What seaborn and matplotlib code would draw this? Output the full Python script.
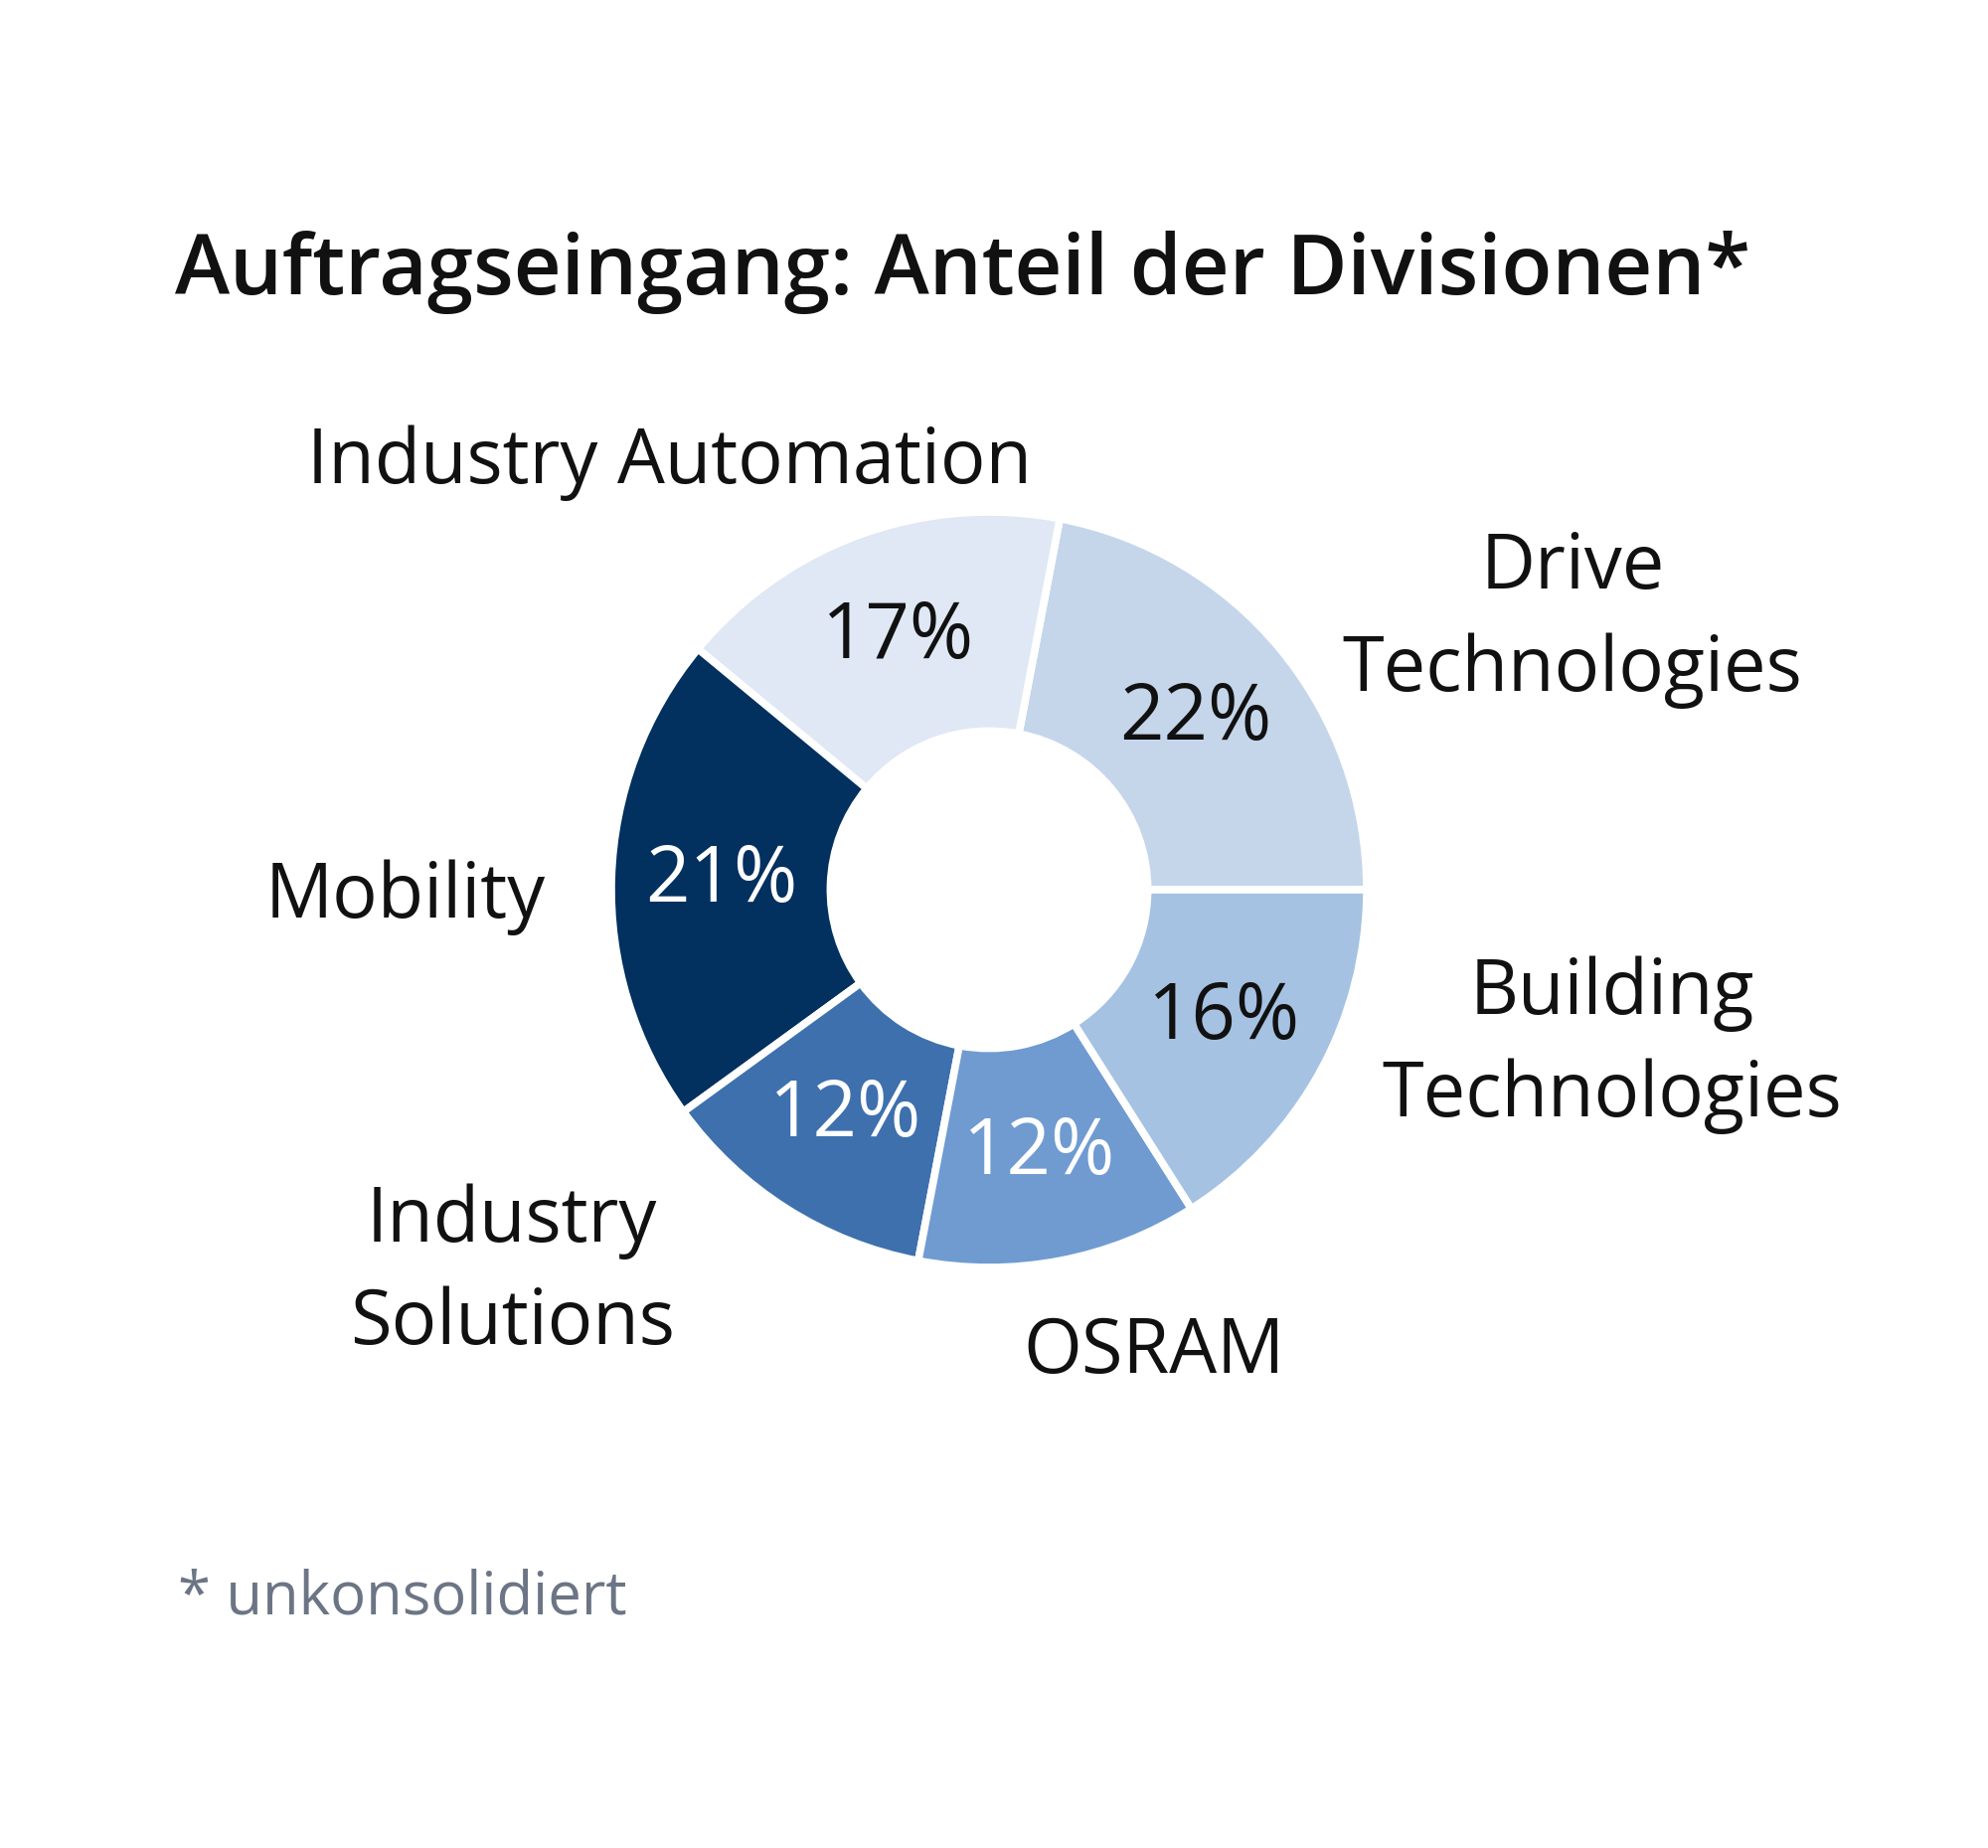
import matplotlib
matplotlib.use("Agg")
import matplotlib.pyplot as plt
import seaborn as sns

# Daten: Anteil der Divisionen am Auftragseingang (gegen den Uhrzeigersinn ab 3 Uhr)
divisionen = ["Drive\nTechnologies", "Industry Automation", "Mobility",
              "Industry\nSolutions", "OSRAM", "Building\nTechnologies"]
anteile = [22, 17, 21, 12, 12, 16]
farben = ["#c5d6eb", "#dfe8f4", "#02305f", "#3d70ad", "#6f9bd1", "#a5c2e2"]
pct_farben = ["#111111", "#111111", "white", "white", "white", "#111111"]

# Positionen der Beschriftungen (in Einheiten des Kreisradius)
label_pos = [(1.545, 0.716), (-0.847, 1.129), (-1.545, -0.021),
             (-1.263, -1.013), (0.437, -1.226), (1.650, -0.411)]

sns.set_theme(style="white")
plt.rcParams["font.family"] = ["Open Sans", "DejaVu Sans"]

fig = plt.figure(figsize=(20, 18.59), dpi=100)
ax = fig.add_axes([0, 0, 1, 1])

wedges, texts, autotexts = ax.pie(
    anteile,
    colors=farben,
    startangle=0,
    counterclock=True,
    radius=1,
    autopct=lambda p: f"{p:.0f}%",
    pctdistance=0.71,
    wedgeprops=dict(width=0.58, edgecolor="white", linewidth=5.5),
    textprops=dict(fontsize=56),
)
for t, c in zip(autotexts, pct_farben):
    t.set_color(c)

for name, (x, y) in zip(divisionen, label_pos):
    ax.text(x, y, name, ha="center", va="center", fontsize=54.5,
            color="#111111", linespacing=1.45)

# Mittelpunkt bei (995, 895) px, Radius 380 px
cx, cy, r = 995, 895, 380
ax.set_xlim(-cx / r, (2000 - cx) / r)
ax.set_ylim(-(1859 - cy) / r, cy / r)
ax.set_aspect("auto")
ax.axis("off")

fig.text(176 / 2000, 1 - 274 / 1859, "Auftragseingang: Anteil der Divisionen*",
         ha="left", va="center", fontsize=60, fontweight="semibold", color="#111111")
fig.text(179 / 2000, 1 - 1607 / 1859, "* unkonsolidiert",
         ha="left", va="center", fontsize=43, color="#6b7585")

fig.savefig("out.png", dpi=100, facecolor="white")
